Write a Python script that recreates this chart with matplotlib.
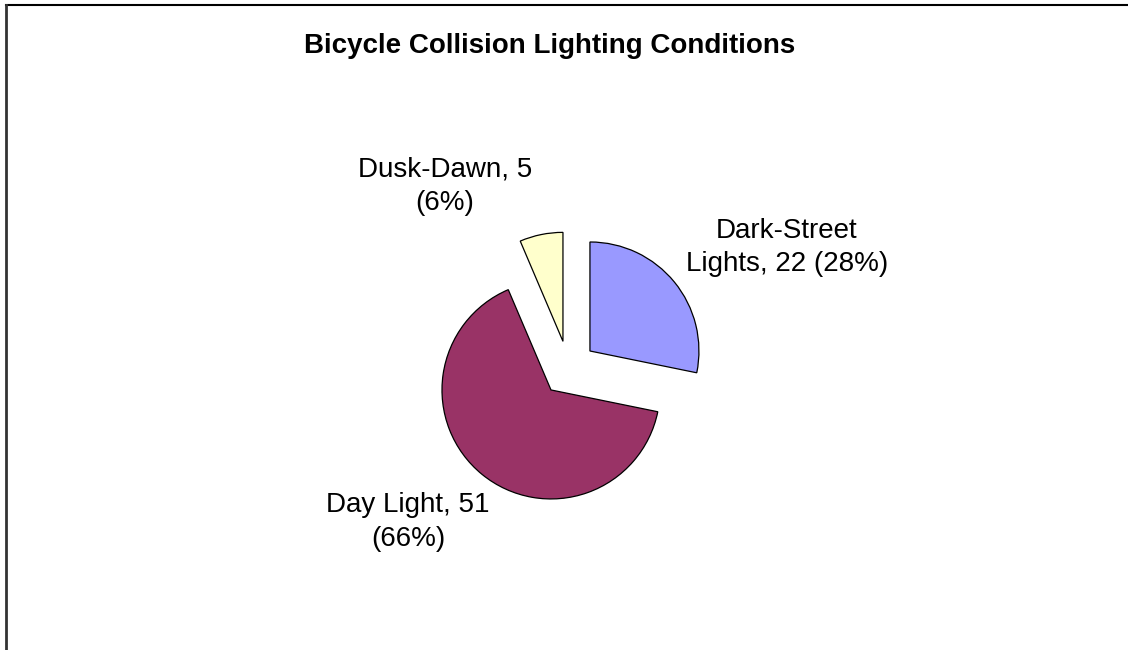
import matplotlib
matplotlib.use('Agg')
import matplotlib.pyplot as plt
from matplotlib.lines import Line2D

plt.rcParams['font.family'] = ['Liberation Sans', 'DejaVu Sans']

# Data
categories = ['Dark-Street Lights', 'Day Light', 'Dusk-Dawn']
counts = [22, 51, 5]
percents = [28, 66, 6]
labels = ['Dark-Street\nLights, 22 (28%)', 'Day Light, 51\n(66%)', 'Dusk-Dawn, 5\n(6%)']
colors = ['#9999FF', '#993366', '#FFFFCC']
explode = [0.254, 0.254, 0.254]

W, H = 1128, 650
fig = plt.figure(figsize=(W / 100, H / 100), dpi=100)
ax = fig.add_axes([0, 0, 1, 1])

# pie center and radius in pixels
cx, cy, r = 568.5, 368.5, 109.0

ax.pie(counts, colors=colors, explode=explode, startangle=90, counterclock=False,
       radius=1, center=(0, 0), frame=True,
       wedgeprops=dict(edgecolor='black', linewidth=0.9))
ax.set_xlim(-cx / r, (W - cx) / r)
ax.set_ylim(-(H - cy) / r, cy / r)
ax.set_aspect('auto')
ax.axis('off')

# label positions (pixels, centre of text block)
label_pos = [(787, 247.5), (408, 522), (445, 186)]
for lab, (px, py) in zip(labels, label_pos):
    fig.text(px / W, 1 - py / H, lab, ha='center', va='center', fontsize=20,
             multialignment='center', linespacing=1.35)

fig.text(550 / W, 1 - 53 / H, 'Bicycle Collision Lighting Conditions',
         ha='center', va='baseline', fontsize=20, fontweight='bold')

# chart frame (cropped on the right and bottom)
fig.add_artist(Line2D([6 / W, 1], [1 - 5 / H, 1 - 5 / H], color='black', linewidth=1.5,
                      transform=fig.transFigure))
fig.add_artist(Line2D([6 / W, 6 / W], [0, 1 - 5 / H], color='#333333', linewidth=2,
                      transform=fig.transFigure))

fig.savefig('out.png', dpi=100)
